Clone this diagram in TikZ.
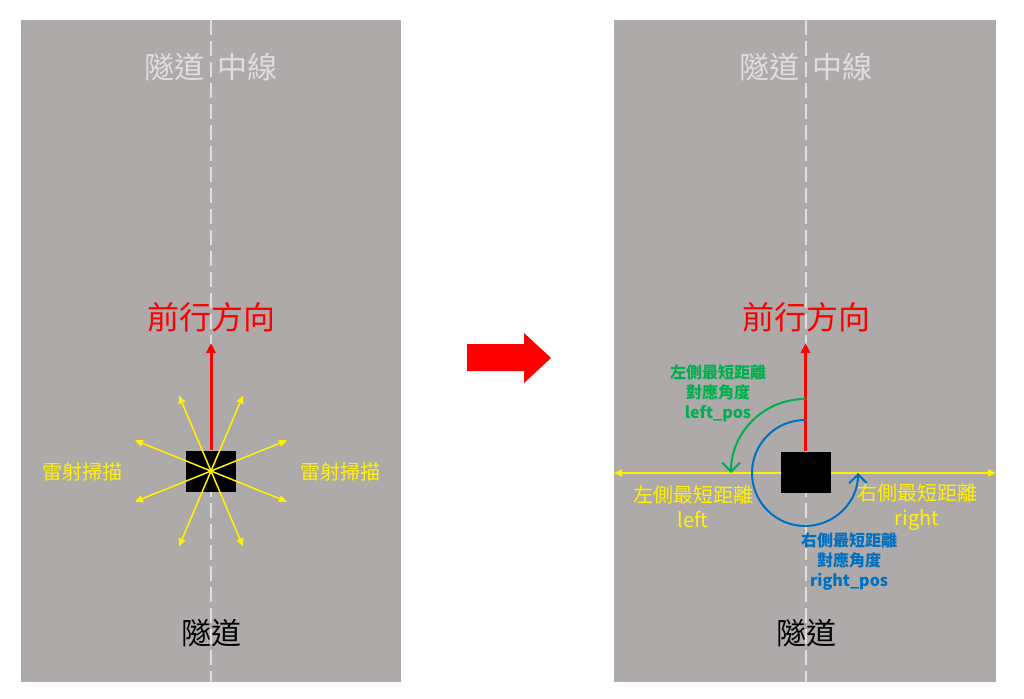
\documentclass[tikz,border=0pt]{standalone}
\usepackage{fontspec}
\setmainfont{Noto Sans CJK TC}
\usetikzlibrary{arrows.meta}
\definecolor{tunnel}{RGB}{174,170,169}
\definecolor{midgray}{RGB}{222,222,222}
\definecolor{leftgreen}{RGB}{0,176,80}
\definecolor{rightblue}{RGB}{0,112,192}
\newcommand{\fs}[1]{\fontsize{#1}{1.25\dimexpr#1pt\relax}\selectfont}

\begin{document}
\begin{tikzpicture}[
        x=1pt, y=-1pt,
        lane/.style={fill=tunnel},
        midline/.style={draw=midgray, line width=2pt, dash pattern=on 15pt off 6pt},
        car/.style={fill=black, minimum width=50pt, minimum height=41pt, inner sep=0pt},
        ahead/.style={red, line width=3pt, -{Triangle[length=10pt,width=9pt]}},
        scan/.style={yellow, line width=1.5pt, -{Triangle[length=8pt,width=7pt]}},
        wall/.style={yellow, line width=1.5pt, {Triangle[length=8pt,width=7pt]}-{Triangle[length=8pt,width=7pt]}},
        turn/.style={line width=2pt, -{Straight Barb[length=9pt,width=18pt]}},
        txt/.style={inner sep=0pt, align=center}
    ]
        \useasboundingbox (0,0) rectangle (1024,698);

        % left panel
        \fill[lane] (21,20) rectangle (401,682);
        \draw[midline] (211,20) -- (211,682);
        \node[txt, midgray, font=\fs{30}] (titleL) at (211,67) {隧道\hspace{14pt}中線};
        \node[txt, red, font=\fs{32}] (dirL) at (211,317) {前行方向};
        \node[txt, font=\fs{30}] (tunL) at (211,633) {隧道};
        \node[car] (carL) at (211,471) {};
        \coordinate (tipL) at (211,343);
        \draw[ahead] (carL.north) -- (tipL);
        \foreach \a in {22,67,113,158,202,247,293,338}
            \draw[scan] (carL.center) -- ++(\a:82);
        \node[txt, yellow, font=\fs{20}] (scanA) at (82,472) {雷射掃描};
        \node[txt, yellow, font=\fs{20}] (scanB) at (340,472) {雷射掃描};

        % big arrow
        \fill[red] (467,344) -- (524,344) -- (524,333) -- (551,358) -- (524,383)
            -- (524,371) -- (467,371) -- cycle;

        % right panel
        \fill[lane] (614,20) rectangle (996,682);
        \draw[midline] (806,20) -- (806,682);
        \node[txt, midgray, font=\fs{30}] (titleR) at (806,67) {隧道\hspace{14pt}中線};
        \node[txt, red, font=\fs{32}] (dirR) at (806,317) {前行方向};
        \node[txt, font=\fs{30}] (tunR) at (806,633) {隧道};
        \coordinate (wallL) at (614,473);
        \coordinate (wallR) at (996,473);
        \draw[wall] (wallL) -- (wallR);
        \node[car] (carR) at (805.5,472) {};
        \coordinate (tipR) at (805.5,343);
        \draw[ahead] (carR.north) -- (tipR);
        \coordinate (gs) at (805,399);
        \draw[turn, leftgreen] (gs) arc[start angle=270, end angle=180, radius=74];
        \coordinate (bs) at (805,420);
        \draw[turn, rightblue] (bs) arc[start angle=270, end angle=0, radius=53];
        \node[txt, leftgreen, font=\fs{16}\bfseries] (lpos) at (718,393)
            {左側最短距離\\對應角度\\left\_pos};
        \node[txt, rightblue, font=\fs{16}\bfseries] (rpos) at (849,562)
            {右側最短距離\\對應角度\\right\_pos};
        \node[txt, yellow, font=\fs{20}] (ldist) at (693,507) {左側最短距離\\left};
        \node[txt, yellow, font=\fs{20}] (rdist) at (917,507) {右側最短距離\\right};
\end{tikzpicture}
\end{document}
